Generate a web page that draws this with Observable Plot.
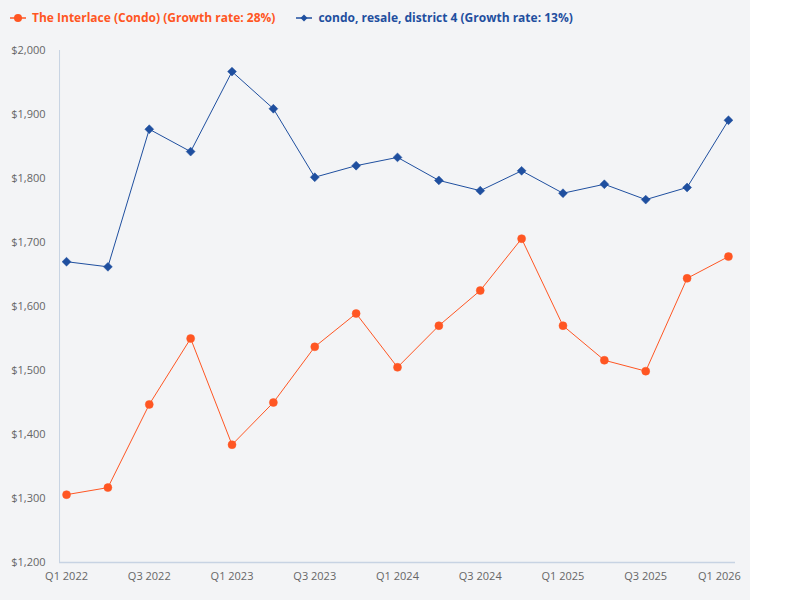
<!DOCTYPE html>
<html>
<head>
<meta charset="utf-8">
<script src="https://cdn.jsdelivr.net/npm/d3@7"></script>
<script src="https://cdn.jsdelivr.net/npm/@observablehq/plot@0.6"></script>
<style>
  html, body { margin: 0; padding: 0; background: #ffffff; }
  #wrap { width: 750px; height: 600px; background: #f3f4f6; font-family: "Open Sans", sans-serif; }
  #legend { height: 35px; display: flex; align-items: center; font-size: 12px; font-weight: 700; padding-left: 10px; box-sizing: border-box; }
  .item { display: flex; align-items: center; margin-right: 21px; }
  .item svg { margin-right: 6px; }
</style>
</head>
<body>
<div id="wrap">
  <div id="legend"></div>
  <div id="chart"></div>
</div>
<script>
const quarters = ["Q1 2022","Q2 2022","Q3 2022","Q4 2022","Q1 2023","Q2 2023","Q3 2023","Q4 2023","Q1 2024","Q2 2024","Q3 2024","Q4 2024","Q1 2025","Q2 2025","Q3 2025","Q4 2025","Q1 2026"];
const interlace = [1306,1317,1447,1550,1384,1450,1537,1589,1505,1570,1625,1706,1570,1516,1499,1644,1678];
const district4 = [1670,1662,1877,1842,1967,1909,1802,1820,1833,1797,1781,1812,1777,1791,1767,1786,1891];
const seriesNames = ["The Interlace (Condo) (Growth rate: 28%)", "condo, resale, district 4 (Growth rate: 13%)"];
const seriesColors = ["#ff5623", "#1f4f9f"];
const seriesSymbols = ["circle", "diamond2"];
const xTickLabels = ["Q1 2022","Q3 2022","Q1 2023","Q3 2023","Q1 2024","Q3 2024","Q1 2025","Q3 2025","Q1 2026"];
const yTicks = [1200,1300,1400,1500,1600,1700,1800,1900,2000];

const rows = [];
quarters.forEach((q, i) => {
  rows.push({q, v: interlace[i], s: seriesNames[0]});
  rows.push({q, v: district4[i], s: seriesNames[1]});
});

// legend
const legend = document.getElementById("legend");
seriesNames.forEach((name, i) => {
  const item = document.createElement("div");
  item.className = "item";
  item.style.color = seriesColors[i];
  const sym = seriesSymbols[i] === "circle"
    ? `<circle cx="8" cy="6" r="4" fill="${seriesColors[i]}"/>`
    : `<path d="M8,2.5 L11.5,6 L8,9.5 L4.5,6 Z" fill="${seriesColors[i]}"/>`;
  item.innerHTML = `<svg width="16" height="12"><line x1="0" x2="16" y1="6" y2="6" stroke="${seriesColors[i]}" stroke-width="1.5"/>${sym}</svg><span>${name}</span>`;
  legend.appendChild(item);
});

const axisColor = "#c7d3e3";
const chart = Plot.plot({
  width: 750,
  height: 565,
  marginLeft: 59,
  marginRight: 15,
  marginTop: 15,
  marginBottom: 38,
  style: { background: "transparent", fontFamily: "'Open Sans', sans-serif", fontSize: "11px", color: "#666" },
  x: { type: "point", domain: quarters, padding: 0.17, round: false, label: null },
  y: { domain: [1200, 2000], label: null },
  color: { domain: seriesNames, range: seriesColors },
  symbol: { domain: seriesNames, range: seriesSymbols },
  marks: [
    Plot.ruleY([1200], { stroke: axisColor, strokeWidth: 1.5 }),
    Plot.ruleX([quarters[0]], { dx: -7, stroke: axisColor, strokeWidth: 1 }),
    Plot.axisY({ ticks: yTicks, tickSize: 0, tickPadding: 14, tickFormat: d => "$" + d3.format(",")(d), fill: "#666" }),
    Plot.axisX({ ticks: xTickLabels.slice(0, -1), tickSize: 0, tickPadding: 10, fill: "#666" }),
    Plot.axisX({ ticks: xTickLabels.slice(-1), tickSize: 0, tickPadding: 10, dx: -9, fill: "#666" }),
    Plot.line(rows, { x: "q", y: "v", z: "s", stroke: "s", strokeWidth: 1 }),
    Plot.dot(rows, { x: "q", y: "v", fill: "s", stroke: "s", strokeWidth: 0.5, symbol: "s", r: 4 })
  ]
});
document.getElementById("chart").appendChild(chart);
</script>
</body>
</html>
